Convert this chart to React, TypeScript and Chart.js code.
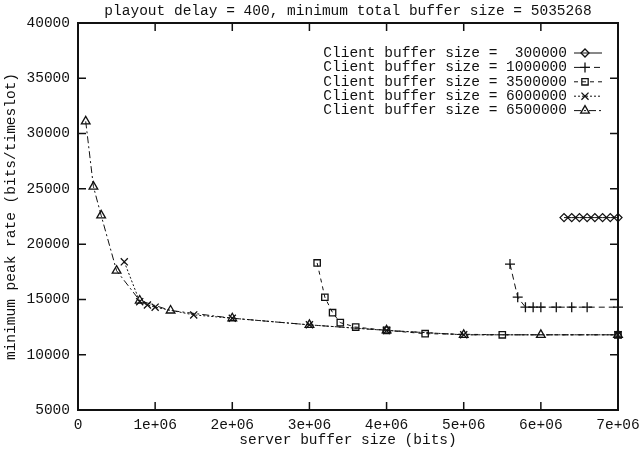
import React, { useEffect, useRef } from 'react';
import { Chart, registerables } from 'chart.js';
import { drawPoint } from 'chart.js/helpers';

Chart.register(...registerables);

const TITLE = 'playout delay = 400, minimum total buffer size = 5035268';
const X_LABEL = 'server buffer size (bits)';
const Y_LABEL = 'minimum peak rate (bits/timeslot)';

const clientSizes = [300000, 1000000, 3500000, 6000000, 6500000];

const xTicks = [0, 1e6, 2e6, 3e6, 4e6, 5e6, 6e6, 7e6];
const yTicks = [5000, 10000, 15000, 20000, 25000, 30000, 35000, 40000];

// Client buffer size = 300000
const c300X = [6.3e6, 6.4e6, 6.5e6, 6.6e6, 6.7e6, 6.8e6, 6.9e6, 7.0e6];
const c300Y = [22400, 22400, 22400, 22400, 22400, 22400, 22400, 22400];

// Client buffer size = 1000000
const c1000X = [5.6e6, 5.7e6, 5.8e6, 5.9e6, 6.0e6, 6.2e6, 6.4e6, 6.6e6, 7.0e6];
const c1000Y = [18200, 15200, 14300, 14300, 14300, 14300, 14300, 14300, 14300];

// Client buffer size = 3500000
const c3500X = [3.1e6, 3.2e6, 3.3e6, 3.4e6, 3.6e6, 4.0e6, 4.5e6, 5.5e6, 7.0e6];
const c3500Y = [18300, 15200, 13800, 12900, 12500, 12200, 11900, 11800, 11800];

// Client buffer size = 6000000
const c6000X = [0.6e6, 0.8e6, 0.9e6, 1.0e6, 1.5e6, 2.0e6, 3.0e6, 4.0e6, 5.0e6, 7.0e6];
const c6000Y = [18400, 14800, 14500, 14300, 13600, 13300, 12700, 12200, 11800, 11800];

// Client buffer size = 6500000
const c6500X = [0.1e6, 0.2e6, 0.3e6, 0.5e6, 0.8e6, 1.2e6, 2.0e6, 3.0e6, 4.0e6, 5.0e6, 6.0e6, 7.0e6];
const c6500Y = [31100, 25200, 22600, 17600, 14900, 14000, 13300, 12700, 12200, 11800, 11800, 11800];

const FONT = "'Liberation Mono', 'DejaVu Sans Mono', monospace";
const INK = '#111';

const pts = (xs: number[], ys: number[]) => xs.map((x, i) => ({ x, y: ys[i] }));

const seriesX = [c300X, c1000X, c3500X, c6000X, c6500X];
const seriesY = [c300Y, c1000Y, c3500Y, c6000Y, c6500Y];
const styles = ['rectRot', 'cross', 'rect', 'crossRot', 'triangle'];
const radii = [4, 5, 4.5, 5, 5];
const dashes: number[][] = [[], [6, 4], [4, 4], [2, 2], [7, 3, 2, 3]];

const fmtX = (v: number) => (v === 0 ? '0' : `${v / 1e6}e+06`);

const framePlugin = {
  id: 'gnuplotFrame',
  afterDraw(chart: any) {
    const { ctx, chartArea: a, scales } = chart;
    ctx.save();
    ctx.strokeStyle = INK;
    ctx.lineWidth = 1.5;
    const tl = 8;
    ctx.beginPath();
    xTicks.forEach((v) => {
      const px = scales.x.getPixelForValue(v);
      ctx.moveTo(px, a.bottom);
      ctx.lineTo(px, a.bottom - tl);
      ctx.moveTo(px, a.top);
      ctx.lineTo(px, a.top + tl);
    });
    yTicks.forEach((v) => {
      const py = scales.y.getPixelForValue(v);
      ctx.moveTo(a.left, py);
      ctx.lineTo(a.left + tl, py);
      ctx.moveTo(a.right, py);
      ctx.lineTo(a.right - tl, py);
    });
    ctx.stroke();
    ctx.lineWidth = 2;
    ctx.strokeRect(a.left, a.top, a.right - a.left, a.bottom - a.top);

    // title
    ctx.fillStyle = INK;
    ctx.font = `14.5px ${FONT}`;
    ctx.textAlign = 'center';
    ctx.textBaseline = 'middle';
    ctx.fillText(TITLE, (a.left + a.right) / 2, 11);

    // legend
    const textRight = 567;
    const lineL = 574;
    const lineR = 602;
    const y0 = 53;
    const dy = 14.4;
    chart.data.datasets.forEach((ds: any, i: number) => {
      const y = y0 + i * dy;
      ctx.fillStyle = INK;
      ctx.textAlign = 'right';
      ctx.fillText(ds.label, textRight, y);
      ctx.strokeStyle = INK;
      ctx.lineWidth = 1;
      ctx.setLineDash(ds.borderDash || []);
      ctx.beginPath();
      ctx.moveTo(lineL, y);
      ctx.lineTo(lineR, y);
      ctx.stroke();
      ctx.setLineDash([]);
      ctx.fillStyle = 'rgba(0,0,0,0)';
      ctx.lineWidth = 1.3;
      drawPoint(ctx, { pointStyle: ds.pointStyle, radius: ds.pointRadius, borderWidth: 1.3, rotation: 0 } as any, (lineL + lineR) / 2 - 3, y);
    });
    ctx.restore();
  },
};

export default function App() {
  const ref = useRef<HTMLCanvasElement | null>(null);
  useEffect(() => {
    document.body.style.margin = '0';
    const canvas = ref.current;
    if (!canvas) return;
    const datasets = clientSizes.map((c, i) => ({
      label: `Client buffer size = ${String(c).padStart(7, ' ')}`,
      data: pts(seriesX[i], seriesY[i]),
      borderColor: INK,
      borderWidth: 1,
      borderDash: dashes[i],
      pointStyle: styles[i],
      pointRadius: radii[i],
      pointBorderWidth: 1.3,
      pointBorderColor: INK,
      pointBackgroundColor: 'rgba(0,0,0,0)',
      backgroundColor: 'rgba(0,0,0,0)',
      tension: 0,
      fill: false,
      clip: 8,
    }));
    const chart = new Chart(canvas, {
      type: 'line',
      data: { datasets },
      plugins: [framePlugin],
      options: {
        animation: false,
        responsive: false,
        maintainAspectRatio: false,
        layout: { padding: { top: 23, right: 23, left: 0, bottom: 0 } },
        plugins: { legend: { display: false }, title: { display: false }, tooltip: { enabled: false } },
        scales: {
          x: {
            type: 'linear',
            min: 0,
            max: 7e6,
            afterFit: (s: any) => { s.height = 40; s.paddingLeft = 0; s.paddingRight = 0; },
            afterBuildTicks: (s: any) => { s.ticks = xTicks.map((v) => ({ value: v })); },
            grid: { display: false, drawTicks: false },
            border: { display: false },
            ticks: {
              padding: 6,
              maxRotation: 0,
              autoSkip: false,
              color: INK,
              font: { family: FONT, size: 14.5 },
              callback: (v: any) => fmtX(Number(v)),
            },
            title: { display: true, text: X_LABEL, color: INK, font: { family: FONT, size: 14.5 }, padding: { top: 0, bottom: 1 } },
          },
          y: {
            type: 'linear',
            min: 5000,
            max: 40000,
            afterFit: (s: any) => { s.width = 78; s.paddingTop = 0; s.paddingBottom = 0; },
            afterBuildTicks: (s: any) => { s.ticks = yTicks.map((v) => ({ value: v })); },
            grid: { display: false, drawTicks: false },
            border: { display: false },
            ticks: {
              padding: 8,
              autoSkip: false,
              color: INK,
              font: { family: FONT, size: 14.5 },
              callback: (v: any) => String(v),
            },
            title: { display: true, text: Y_LABEL, color: INK, font: { family: FONT, size: 14.5 }, padding: { top: 2, bottom: 0 } },
          },
        },
      } as any,
    });
    return () => chart.destroy();
  }, []);
  return <canvas ref={ref} width={641} height={450} style={{ display: 'block', width: 641, height: 450 }} />;
}
